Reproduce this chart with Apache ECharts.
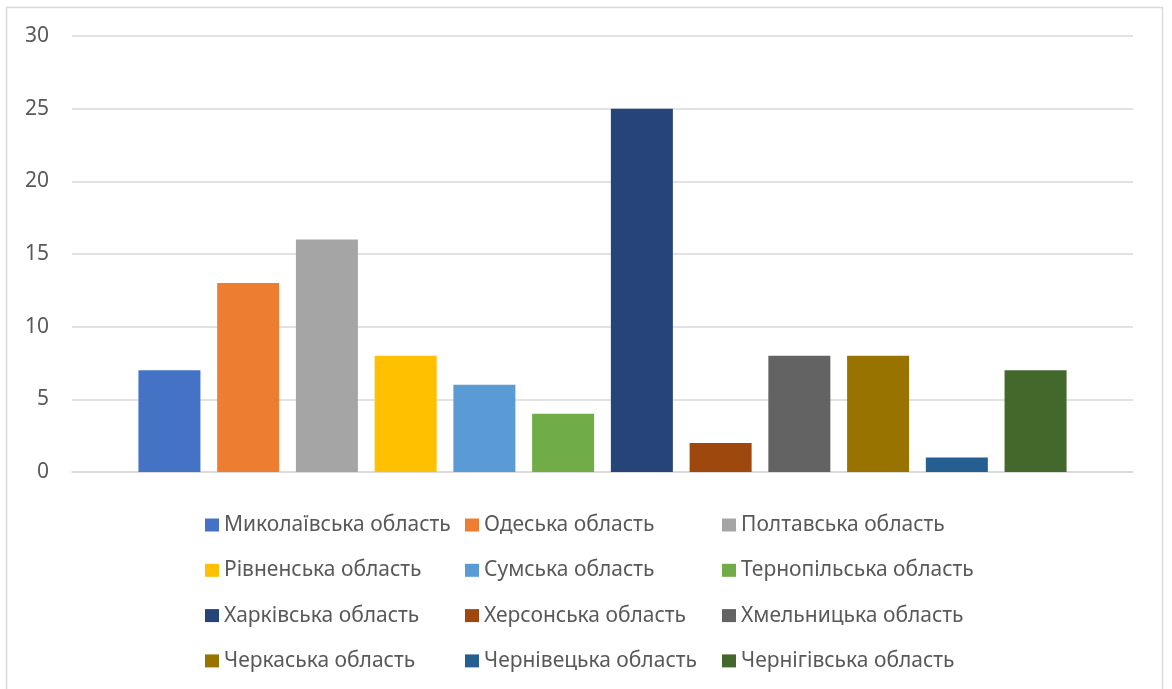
<!DOCTYPE html>
<html>
<head>
<meta charset="utf-8">
<script src="https://cdn.jsdelivr.net/npm/echarts@6/dist/echarts.min.js"></script>
<style>
  html, body { margin: 0; padding: 0; background: #ffffff; }
  #chart { width: 1172px; height: 689px; }
</style>
</head>
<body>
<div id="chart"></div>
<script>
// Regions and their counts
const regions = [
  'Миколаївська область', 'Одеська область', 'Полтавська область',
  'Рівненська область', 'Сумська область', 'Тернопільська область',
  'Харківська область', 'Херсонська область', 'Хмельницька область',
  'Черкаська область', 'Чернівецька область', 'Чернігівська область'
];
const counts = [7, 13, 16, 8, 6, 4, 25, 2, 8, 8, 1, 7];
const colors = [
  '#4472C4', '#ED7D31', '#A5A5A5', '#FFC000', '#5B9BD5', '#70AD47',
  '#264478', '#9E480E', '#636363', '#997300', '#255E91', '#43682B'
];
const yTicks = [0, 5, 10, 15, 20, 25, 30];

const FONT = 'Noto Sans';
const TEXT = '#595959';

const series = regions.map((name, i) => ({
  name: name,
  type: 'bar',
  data: [counts[i]],
  barWidth: 62,
  barGap: '27%',
  itemStyle: { color: colors[i] },
  emphasis: { disabled: true }
}));

// Legend laid out in three columns, four rows
const columnsLeft = [205, 465, 722];
const legends = columnsLeft.map((left, c) => ({
  orient: 'vertical',
  left: left,
  top: 514.5,
  padding: 0,
  itemWidth: 14,
  itemHeight: 13,
  itemGap: 24.3,
  icon: 'rect',
  selectedMode: false,
  data: regions.filter((_, i) => i % 3 === c),
  textStyle: { color: TEXT, fontSize: 21, fontFamily: FONT, lineHeight: 21 }
}));

const chart = echarts.init(document.getElementById('chart'), null, { renderer: 'canvas' });
chart.setOption({
  animation: false,
  backgroundColor: '#ffffff',
  textStyle: { fontFamily: FONT },
  grid: { left: 72, right: 39, top: 36, bottom: 217, containLabel: false },
  legend: legends,
  xAxis: {
    type: 'category',
    data: [''],
    axisLine: { lineStyle: { color: '#d9d9d9', width: 1.5 } },
    axisTick: { show: false },
    axisLabel: { show: false }
  },
  yAxis: {
    type: 'value',
    min: yTicks[0],
    max: yTicks[yTicks.length - 1],
    interval: 5,
    axisLine: { show: false },
    axisTick: { show: false },
    axisLabel: { color: TEXT, fontSize: 21, fontFamily: FONT, margin: 23 },
    splitLine: { lineStyle: { color: '#d9d9d9', width: 1.5 } }
  },
  series: series,
  graphic: [{
    type: 'rect',
    silent: true,
    shape: { x: 6.5, y: 7.5, width: 1156, height: 700 },
    style: { fill: null, stroke: '#d9d9d9', lineWidth: 1.5 }
  }]
});
</script>
</body>
</html>
